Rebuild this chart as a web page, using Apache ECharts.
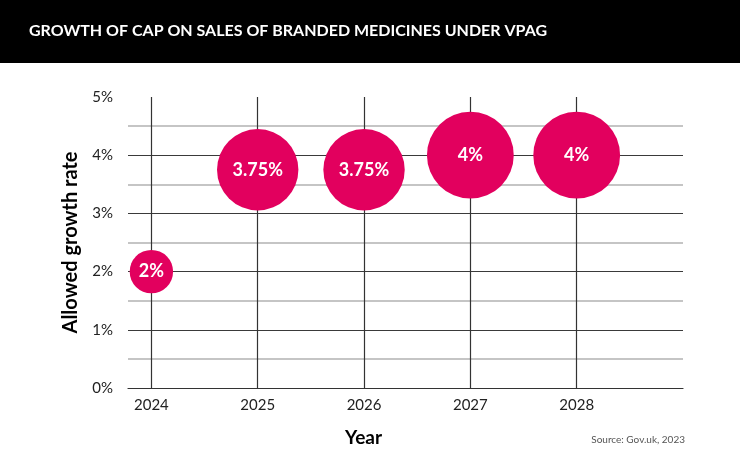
<!DOCTYPE html>
<html>
<head>
<meta charset="utf-8">
<script src="https://cdn.jsdelivr.net/npm/echarts@6/dist/echarts.min.js"></script>
<style>
html,body{margin:0;padding:0;background:#fff;}
#main{width:740px;height:472px;}
</style>
</head>
<body>
<div id="main"></div>
<script>
var years = [2024, 2025, 2026, 2027, 2028];
var growthRates = [2, 3.75, 3.75, 4, 4];
var rateLabels = ['2%', '3.75%', '3.75%', '4%', '4%'];
var chartTitle = 'GROWTH OF CAP ON SALES OF BRANDED MEDICINES UNDER VPAG';
var yAxisTitle = 'Allowed growth rate';
var xAxisTitle = 'Year';
var sourceText = 'Source: Gov.uk, 2023';

var FONT = 'Lato';
var chart = echarts.init(document.getElementById('main'), null, {renderer: 'canvas'});

var points = years.map(function (y, i) { return [y, growthRates[i], rateLabels[i]]; });

chart.setOption({
  animation: false,
  backgroundColor: '#ffffff',
  graphic: [
    {type: 'rect', left: 0, top: 0, z: 0, shape: {width: 740, height: 63}, style: {fill: '#000000'}},
    {type: 'text', left: 29, top: 23, z: 10, style: {text: chartTitle, fill: '#ffffff', font: 'bold 16px ' + FONT}},
    {type: 'text', left: 345, top: 428, z: 10, style: {text: xAxisTitle, fill: '#000000', font: 'bold 19px ' + FONT}},
    {type: 'text', right: 55, top: 435, z: 10, style: {text: sourceText, fill: '#555555', font: '10px ' + FONT}}
  ],
  grid: {left: 128, right: 57, top: 97, bottom: 84},
  xAxis: {
    type: 'value',
    min: 2023.78,
    max: 2029,
    axisLine: {show: true, lineStyle: {color: '#333333', width: 1.2}},
    axisTick: {show: false, customValues: years},
    splitLine: {show: false},
    axisLabel: {
      customValues: years,
      color: '#222222',
      fontFamily: FONT,
      fontSize: 15,
      margin: 10,
      formatter: function (v) { return String(Math.round(v)); }
    }
  },
  yAxis: {
    type: 'value',
    min: 0,
    max: 5,
    interval: 1,
    name: yAxisTitle,
    nameLocation: 'middle',
    nameGap: 47,
    nameTextStyle: {fontFamily: FONT, fontWeight: 'bold', fontSize: 20, color: '#000000'},
    axisLine: {show: false},
    axisTick: {show: false},
    axisLabel: {formatter: '{value}%', color: '#222222', fontFamily: FONT, fontSize: 15, margin: 15},
    splitLine: {show: true, showMaxLine: false, lineStyle: {color: '#3a3a3a', width: 1.2}},
    minorTick: {show: false, splitNumber: 2},
    minorSplitLine: {show: true, lineStyle: {color: '#b3b3b3', width: 1.5}}
  },
  series: [{
    type: 'scatter',
    z: 3,
    data: points,
    symbolSize: function (d) { return d[1] * 21.7; },
    itemStyle: {color: '#E2005E', opacity: 1},
    label: {
      show: true,
      position: 'inside',
      formatter: function (p) { return p.data[2]; },
      color: '#ffffff',
      fontFamily: FONT,
      fontWeight: 'bold',
      fontSize: 18
    },
    emphasis: {disabled: true},
    markLine: {
      z: 1,
      silent: true,
      symbol: 'none',
      label: {show: false},
      lineStyle: {color: '#333333', width: 1.2, type: 'solid'},
      data: years.map(function (y) { return {xAxis: y}; })
    }
  }]
});
</script>
</body>
</html>
